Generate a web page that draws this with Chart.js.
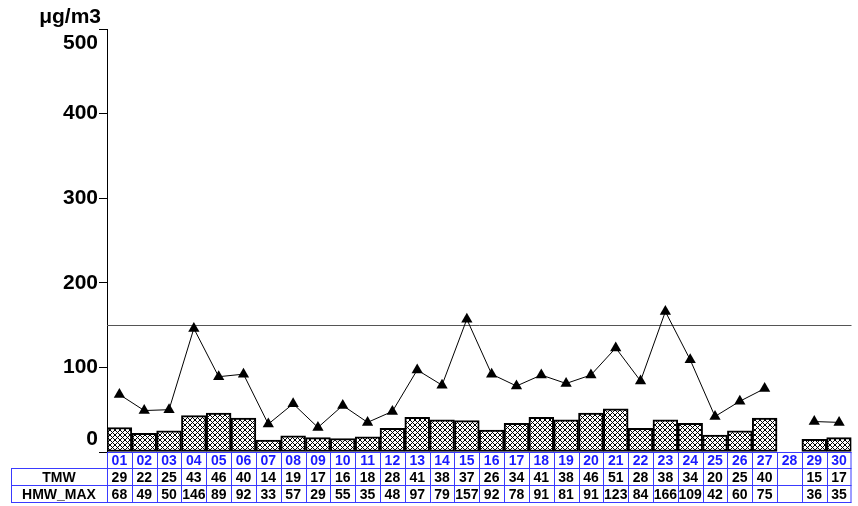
<!DOCTYPE html>
<html>
<head>
<meta charset="utf-8">
<script src="https://cdn.jsdelivr.net/npm/chart.js@4.4.1/dist/chart.umd.min.js"></script>
<style>
  html, body { margin: 0; padding: 0; background: #fff; }
  #wrap { width: 858px; height: 506px; }
</style>
</head>
<body>
<div id="wrap"><canvas id="c" width="858" height="506"></canvas></div>
<script>
const categories = ['01','02','03','04','05','06','07','08','09','10','11','12','13','14','15','16','17','18','19','20','21','22','23','24','25','26','27','28','29','30'];
const TMW = [29,22,25,43,46,40,14,19,17,16,18,28,41,38,37,26,34,41,38,46,51,28,38,34,20,25,40,null,15,17];
const HMW_MAX = [68,49,50,146,89,92,33,57,29,55,35,48,97,79,157,92,78,91,81,91,123,84,166,109,42,60,75,null,36,35];
const yTicks = [0,100,200,300,400,500];
const LIMIT = 150;
const UNIT = 'μg/m3';
const rowNames = ['TMW','HMW_MAX'];

function hatch() {
  const n = 5;
  const c = document.createElement('canvas');
  c.width = n; c.height = n;
  const x = c.getContext('2d');
  x.fillStyle = '#fff'; x.fillRect(0, 0, n, n);
  x.fillStyle = '#000';
  for (let i = 0; i < n; i++) {
    x.fillRect(i, i, 1, 1);
    x.fillRect(n - 1 - i, i, 1, 1);
  }
  return x.createPattern(c, 'repeat');
}

const BLUE_TXT = '#1a1aff';
const BLUE_LINE = '#3a3aff';

const tablePlugin = {
  id: 'tablePlugin',
  beforeDatasetsDraw(chart) {
    const {ctx, chartArea: a, scales: {y}} = chart;
    const yy = Math.round(y.getPixelForValue(LIMIT)) + 0.5;
    ctx.save();
    ctx.strokeStyle = '#555';
    ctx.lineWidth = 1;
    ctx.beginPath(); ctx.moveTo(a.left, yy); ctx.lineTo(a.right, yy); ctx.stroke();
    ctx.strokeStyle = BLUE_LINE;
    ctx.beginPath(); ctx.moveTo(a.left, a.bottom + 0.5); ctx.lineTo(a.right, a.bottom + 0.5); ctx.stroke();
    ctx.restore();
  },
  afterDraw(chart) {
    const {ctx, chartArea: a, scales: {x, y}} = chart;
    ctx.save();
    ctx.font = 'bold 21px "Liberation Sans", Arial, sans-serif';
    ctx.fillStyle = '#000';
    ctx.textAlign = 'right';
    ctx.textBaseline = 'middle';
    yTicks.forEach(v => {
      let py = y.getPixelForValue(v);
      if (v === yTicks[yTicks.length - 1]) py += 14;
      if (v === yTicks[0]) py -= 13;
      ctx.fillText(String(v), 98, py);
    });
    ctx.font = 'bold 21px "Liberation Sans", Arial, sans-serif';
    ctx.fillText(UNIT, 101, 17);

    const left = 11, colW = x.getPixelForValue(1) - x.getPixelForValue(0);
    const top0 = a.bottom, r1 = 468.5, r2 = 485.5, r3 = 502.5;
    ctx.strokeStyle = BLUE_LINE;
    ctx.lineWidth = 1;
    ctx.beginPath();
    ctx.moveTo(left, r1); ctx.lineTo(a.right, r1);
    ctx.moveTo(left, r2); ctx.lineTo(a.right, r2);
    ctx.moveTo(left, r3); ctx.lineTo(a.right, r3);
    ctx.moveTo(left + 0.5, r1); ctx.lineTo(left + 0.5, r3);
    for (let i = 0; i <= categories.length; i++) {
      const px = Math.round(x.getPixelForValue(i) - colW / 2) + 0.5;
      ctx.moveTo(Math.min(px, a.right - 0.5), top0); ctx.lineTo(Math.min(px, a.right - 0.5), r3);
    }
    ctx.stroke();

    ctx.font = 'bold 14px "Liberation Sans", Arial, sans-serif';
    ctx.textAlign = 'center';
    ctx.textBaseline = 'middle';
    categories.forEach((c, i) => {
      const cx = x.getPixelForValue(i);
      ctx.fillStyle = BLUE_TXT;
      ctx.fillText(c, cx, 461);
      ctx.fillStyle = '#000';
      if (TMW[i] !== null) ctx.fillText(String(TMW[i]), cx, 478);
      if (HMW_MAX[i] !== null) ctx.fillText(String(HMW_MAX[i]), cx, 495);
    });
    ctx.fillStyle = '#000';
    const midL = (left + a.left) / 2;
    ctx.fillText(rowNames[0], midL, 478);
    ctx.fillText(rowNames[1], midL, 495);
    ctx.restore();
  }
};

new Chart(document.getElementById('c'), {
  data: {
    labels: categories,
    datasets: [
      {
        type: 'line',
        label: 'HMW_MAX',
        data: HMW_MAX,
        borderColor: '#000',
        borderWidth: 1,
        backgroundColor: '#000',
        pointStyle: 'triangle',
        pointRadius: 6.5,
        pointBorderWidth: 0,
        pointBackgroundColor: '#000',
        spanGaps: false,
        tension: 0,
        order: 0
      },
      {
        type: 'bar',
        label: 'TMW',
        data: TMW,
        backgroundColor: hatch(),
        borderColor: '#000',
        borderWidth: 2,
        borderSkipped: false,
        barPercentage: 1,
        categoryPercentage: 1,
        order: 1
      }
    ]
  },
  options: {
    responsive: false,
    animation: false,
    events: [],
    layout: { padding: { left: 0, right: 1, top: 29, bottom: 54 } },
    plugins: { legend: { display: false }, tooltip: { enabled: false } },
    scales: {
      x: { type: 'category', display: false },
      y: {
        min: 0, max: 500,
        afterBuildTicks(s) { s.ticks = yTicks.map(v => ({ value: v })); },
        afterFit(s) { s.width = 107; },
        ticks: { display: false },
        grid: { display: true, drawOnChartArea: false, drawTicks: true, tickLength: 8, color: '#000', lineWidth: 1 },
        border: { display: true, color: '#000', width: 1 }
      }
    }
  },
  plugins: [tablePlugin]
});
</script>
</body>
</html>
